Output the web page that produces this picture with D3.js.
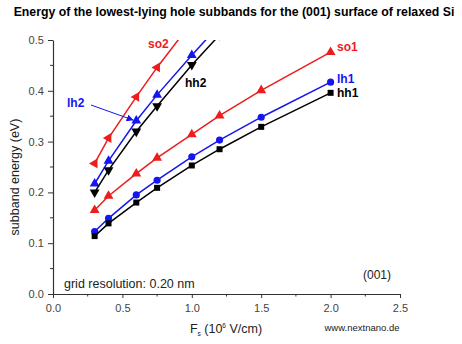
<!DOCTYPE html>
<html>
<head>
<meta charset="utf-8">
<script src="https://cdn.jsdelivr.net/npm/d3@7"></script>
<style>
  html, body { margin: 0; padding: 0; background: #fff; }
  svg { display: block; font-family: Arial, "Liberation Sans", Helvetica, sans-serif; }
</style>
</head>
<body>
<svg id="chart" width="462" height="344"></svg>
<script>
// Electric field values F_s (10^6 V/cm)
const fields = [0.3, 0.4, 0.6, 0.75, 1.0, 1.2, 1.5, 2.0];

// Subband energies (eV)
const hh1 = [0.114, 0.139, 0.180, 0.209, 0.253, 0.285, 0.329, 0.396];
const lh1 = [0.123, 0.149, 0.195, 0.224, 0.270, 0.303, 0.348, 0.417];
const so1 = [0.165, 0.193, 0.237, 0.268, 0.314, 0.351, 0.401, 0.476];
const hh2 = [0.200, 0.244, 0.320, 0.370, 0.451, 0.510];
const lh2 = [0.217, 0.262, 0.341, 0.392, 0.470, 0.530];
const so2 = [0.257, 0.307, 0.388, 0.446, 0.535];

const xTicks = [0.0, 0.5, 1.0, 1.5, 2.0, 2.5];
const yTicks = [0.0, 0.1, 0.2, 0.3, 0.4, 0.5];

const RED = "#ee1c1c", BLUE = "#1515f0", BLACK = "#000000";

const series = [
  { name: "so2", values: so2, color: RED,   symbol: "triLeft" },
  { name: "lh2", values: lh2, color: BLUE,  symbol: "triUp" },
  { name: "hh2", values: hh2, color: BLACK, symbol: "triDown" },
  { name: "so1", values: so1, color: RED,   symbol: "triUp" },
  { name: "lh1", values: lh1, color: BLUE,  symbol: "circle" },
  { name: "hh1", values: hh1, color: BLACK, symbol: "square" }
];

const svg = d3.select("#chart");
const plotLeft = 53, plotRight = 400, plotTop = 40, plotBottom = 294;

const x = d3.scaleLinear().domain([0, 2.5]).range([plotLeft, plotRight]);
const y = d3.scaleLinear().domain([0, 0.5]).range([plotBottom, plotTop]);

// Title
svg.append("text")
  .attr("x", 234).attr("y", 16)
  .attr("text-anchor", "middle")
  .attr("font-size", 12.3).attr("font-weight", "bold")
  .attr("fill", "#000")
  .text("Energy of the lowest-lying hole subbands for the (001) surface of relaxed Si");

// Clip region for the data
svg.append("clipPath").attr("id", "plotClip")
  .append("rect")
  .attr("x", plotLeft).attr("y", plotTop)
  .attr("width", 420 - plotLeft).attr("height", plotBottom - plotTop);

// Axes
const axisColor = "#333";
const xAxis = d3.axisBottom(x).tickValues(xTicks).tickFormat(d3.format(".1f")).tickSize(4).tickSizeOuter(0);
const yAxis = d3.axisLeft(y).tickValues(yTicks).tickFormat(d3.format(".1f")).tickSize(5).tickSizeOuter(0);

const gx = svg.append("g").attr("transform", `translate(0,${plotBottom})`).call(xAxis);
const gy = svg.append("g").attr("transform", `translate(${plotLeft},0)`).call(yAxis);

[gx, gy].forEach(g => {
  g.select(".domain").attr("stroke", axisColor).attr("stroke-width", 1.2);
  g.selectAll(".tick line").attr("stroke", axisColor).attr("stroke-width", 1);
  g.selectAll(".tick text").attr("fill", "#444").attr("font-size", 11)
    .attr("font-family", "Arial, 'Liberation Sans', sans-serif");
});
gx.selectAll(".tick text").attr("dy", "1.0em");
gy.selectAll(".tick text").attr("dx", "-0.1em");

// Minor ticks
const xMinor = d3.range(0.25, 2.5, 0.5);
svg.append("g").selectAll("line").data(xMinor).join("line")
  .attr("x1", d => x(d)).attr("x2", d => x(d))
  .attr("y1", plotBottom).attr("y2", plotBottom + 2.5)
  .attr("stroke", axisColor);
const yMinor = d3.range(0.05, 0.5, 0.1);
svg.append("g").selectAll("line").data(yMinor).join("line")
  .attr("x1", plotLeft).attr("x2", plotLeft - 3)
  .attr("y1", d => y(d)).attr("y2", d => y(d))
  .attr("stroke", axisColor);

// Axis titles
svg.append("text")
  .attr("transform", `translate(19,${(plotTop + plotBottom) / 2 + 10}) rotate(-90)`)
  .attr("text-anchor", "middle")
  .attr("font-size", 12.5).attr("fill", "#222")
  .text("subband energy (eV)");

const xt = svg.append("text")
  .attr("x", 226).attr("y", 333)
  .attr("text-anchor", "middle")
  .attr("font-size", 12.5).attr("fill", "#222");
xt.append("tspan").text("F");
xt.append("tspan").attr("font-size", 6.5).attr("dy", 3).text("s");
xt.append("tspan").attr("dy", -3).text(" (10");
xt.append("tspan").attr("font-size", 6.5).attr("dy", -5).text("6");
xt.append("tspan").attr("dy", 5).text(" V/cm)");

svg.append("text")
  .attr("x", 362).attr("y", 331)
  .attr("text-anchor", "middle")
  .attr("font-size", 9.5).attr("fill", "#222")
  .text("www.nextnano.de");

svg.append("text")
  .attr("x", 64).attr("y", 288)
  .attr("font-size", 12.5).attr("fill", "#222")
  .text("grid resolution: 0.20 nm");

svg.append("text")
  .attr("x", 377).attr("y", 279)
  .attr("text-anchor", "middle")
  .attr("font-size", 12).attr("fill", "#222")
  .text("(001)");

// Data lines and markers
const plot = svg.append("g").attr("clip-path", "url(#plotClip)");
const line = d3.line().x(d => x(d[0])).y(d => y(d[1]));

const tri = d3.symbol().type(d3.symbolTriangle).size(42);
function markerPath(kind) {
  if (kind === "circle") return d3.symbol().type(d3.symbolCircle).size(40)();
  if (kind === "square") return d3.symbol().type(d3.symbolSquare).size(36)();
  return tri();
}
function markerRot(kind) {
  if (kind === "triDown") return 180;
  if (kind === "triLeft") return -90;
  return 0;
}

series.forEach(s => {
  const pts = s.values.map((v, i) => [fields[i], v]);
  plot.append("path")
    .datum(pts)
    .attr("fill", "none")
    .attr("stroke", s.color)
    .attr("stroke-width", 1.5)
    .attr("d", line);
  plot.append("g").selectAll("path").data(pts).join("path")
    .attr("d", markerPath(s.symbol))
    .attr("transform", d => `translate(${x(d[0])},${y(d[1])}) rotate(${markerRot(s.symbol)})`)
    .attr("fill", s.color);
});

// Series labels
const labels = [
  { text: "so2", x: 148, y: 48, color: RED },
  { text: "hh2", x: 185, y: 87, color: BLACK },
  { text: "lh2", x: 67, y: 107, color: BLUE },
  { text: "so1", x: 337, y: 51, color: RED },
  { text: "lh1", x: 337, y: 83, color: BLUE },
  { text: "hh1", x: 337, y: 97, color: BLACK }
];
svg.append("g").selectAll("text").data(labels).join("text")
  .attr("x", d => d.x).attr("y", d => d.y)
  .attr("font-size", 12).attr("font-weight", "bold")
  .attr("fill", d => d.color)
  .text(d => d.text);

// Pointer from the lh2 label to its curve
svg.append("defs").append("marker")
  .attr("id", "arrowHead")
  .attr("viewBox", "0 0 10 10")
  .attr("refX", 9).attr("refY", 5)
  .attr("markerWidth", 7).attr("markerHeight", 7)
  .attr("markerUnits", "userSpaceOnUse")
  .attr("orient", "auto")
  .append("path").attr("d", "M0,0 L10,5 L0,10 z").attr("fill", BLUE);
svg.append("line")
  .attr("x1", 91).attr("y1", 105)
  .attr("x2", 133).attr("y2", 120)
  .attr("stroke", BLUE).attr("stroke-width", 1)
  .attr("marker-end", "url(#arrowHead)");
</script>
</body>
</html>
